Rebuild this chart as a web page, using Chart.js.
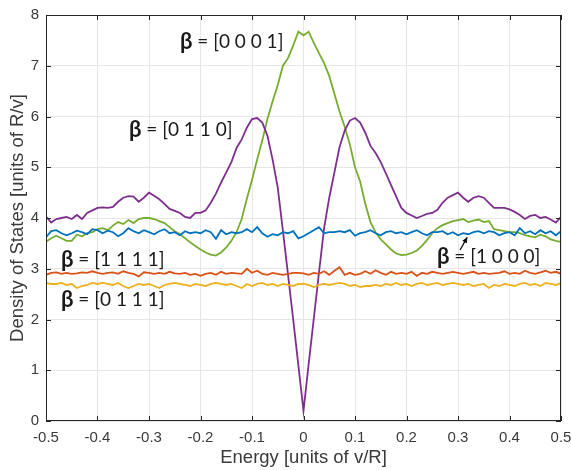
<!DOCTYPE html>
<html>
<head>
<meta charset="utf-8">
<script src="https://cdn.jsdelivr.net/npm/chart.js@4.4.1/dist/chart.umd.min.js"></script>
<style>
  html, body { margin: 0; padding: 0; background: #ffffff; }
  canvas { display: block; }
</style>
</head>
<body>
<canvas id="c" width="571" height="470"></canvas>
<script>
// ---------- DATA ----------
const energy = [
  -0.50,-0.49,-0.48,-0.47,-0.46,-0.45,-0.44,-0.43,-0.42,-0.41,
  -0.40,-0.39,-0.38,-0.37,-0.36,-0.35,-0.34,-0.33,-0.32,-0.31,
  -0.30,-0.29,-0.28,-0.27,-0.26,-0.25,-0.24,-0.23,-0.22,-0.21,
  -0.20,-0.19,-0.18,-0.17,-0.16,-0.15,-0.14,-0.13,-0.12,-0.11,
  -0.10,-0.09,-0.08,-0.07,-0.06,-0.05,-0.04,-0.03,-0.02,-0.01,
   0.00, 0.01, 0.02, 0.03, 0.04, 0.05, 0.06, 0.07, 0.08, 0.09,
   0.10, 0.11, 0.12, 0.13, 0.14, 0.15, 0.16, 0.17, 0.18, 0.19,
   0.20, 0.21, 0.22, 0.23, 0.24, 0.25, 0.26, 0.27, 0.28, 0.29,
   0.30, 0.31, 0.32, 0.33, 0.34, 0.35, 0.36, 0.37, 0.38, 0.39,
   0.40, 0.41, 0.42, 0.43, 0.44, 0.45, 0.46, 0.47, 0.48, 0.49,
   0.50
];

// beta = [1 0 0 0]
const dos1000 = [
  3.62,3.74,3.76,3.70,3.66,3.70,3.75,3.72,3.68,3.78,
  3.76,3.70,3.75,3.72,3.64,3.70,3.80,3.74,3.70,3.76,
  3.72,3.68,3.74,3.78,3.70,3.72,3.66,3.74,3.70,3.72,
  3.70,3.76,3.72,3.59,3.76,3.68,3.72,3.70,3.72,3.78,
  3.72,3.82,3.70,3.63,3.68,3.66,3.72,3.70,3.74,3.60,
  3.64,3.70,3.76,3.82,3.70,3.72,3.72,3.74,3.72,3.76,
  3.65,3.70,3.72,3.76,3.70,3.66,3.72,3.74,3.70,3.72,
  3.68,3.72,3.76,3.70,3.66,3.72,3.72,3.74,3.68,3.72,
  3.66,3.70,3.68,3.72,3.74,3.70,3.74,3.72,3.66,3.70,
  3.72,3.66,3.80,3.70,3.74,3.68,3.76,3.70,3.74,3.66,
  3.74
];

// beta = [1 1 1 1]
const dos1111 = [
  2.88,2.92,2.93,2.90,2.92,2.90,2.91,2.93,2.92,2.95,
  2.92,2.90,2.92,2.93,2.90,2.95,2.92,2.90,2.85,2.93,
  2.92,2.90,2.92,2.90,2.94,2.91,2.90,2.92,2.88,2.90,
  2.86,2.90,2.92,2.88,2.94,2.90,2.92,2.91,2.90,3.00,
  2.92,2.96,2.90,2.88,2.92,2.90,2.88,2.90,2.92,2.92,
  2.91,2.88,2.92,2.90,2.95,2.88,2.96,3.03,2.88,2.92,
  2.88,2.90,2.95,2.90,2.97,2.92,2.88,2.94,2.90,2.92,
  2.90,2.94,2.86,2.92,2.90,2.94,2.92,2.90,2.92,2.94,
  2.92,2.90,2.92,2.94,2.90,2.92,2.90,2.91,2.92,2.95,
  2.90,2.92,2.90,2.96,2.92,2.90,2.93,2.96,2.92,2.94,
  2.90
];

// beta = [0 1 1 1]
const dos0111 = [
  2.72,2.70,2.70,2.72,2.68,2.70,2.62,2.66,2.68,2.72,
  2.70,2.72,2.70,2.68,2.72,2.66,2.62,2.66,2.70,2.68,
  2.70,2.66,2.62,2.68,2.70,2.72,2.70,2.68,2.66,2.70,
  2.68,2.66,2.70,2.72,2.70,2.68,2.70,2.66,2.62,2.70,
  2.66,2.70,2.72,2.68,2.70,2.66,2.70,2.68,2.66,2.70,
  2.70,2.68,2.64,2.68,2.70,2.68,2.70,2.72,2.70,2.66,
  2.68,2.64,2.66,2.66,2.68,2.66,2.70,2.68,2.72,2.68,
  2.70,2.66,2.70,2.72,2.68,2.70,2.72,2.68,2.70,2.72,
  2.70,2.68,2.70,2.66,2.68,2.70,2.62,2.68,2.66,2.70,
  2.68,2.66,2.70,2.72,2.68,2.70,2.66,2.72,2.70,2.68,
  2.72
];

// beta = [0 1 1 0]
const dos0110 = [
  4.03,3.91,3.98,4.00,4.02,3.98,4.06,3.98,4.10,4.15,
  4.20,4.21,4.20,4.22,4.32,4.40,4.43,4.42,4.32,4.40,
  4.50,4.44,4.37,4.28,4.18,4.14,4.10,4.02,4.00,4.10,
  4.10,4.15,4.30,4.48,4.70,4.90,5.10,5.38,5.55,5.78,
  5.95,5.97,5.88,5.62,5.15,4.60,3.75,2.88,2.00,1.10,
  0.20,1.12,2.02,2.92,3.80,4.40,4.90,5.40,5.72,5.92,
  5.97,5.88,5.68,5.42,5.28,5.10,4.88,4.65,4.42,4.20,
  4.10,4.05,4.00,4.04,4.08,4.10,4.16,4.30,4.40,4.45,
  4.50,4.40,4.32,4.40,4.43,4.40,4.30,4.20,4.20,4.20,
  4.17,4.12,4.06,3.98,4.04,4.06,4.00,4.02,3.97,3.91,
  4.02
];

// beta = [0 0 0 1]
const dos0001 = [
  3.53,3.60,3.65,3.60,3.55,3.55,3.67,3.64,3.70,3.72,
  3.78,3.80,3.76,3.85,3.92,3.88,3.96,3.90,3.98,4.00,
  4.00,3.98,3.94,3.90,3.82,3.74,3.68,3.60,3.52,3.45,
  3.38,3.32,3.28,3.26,3.32,3.42,3.55,3.72,3.98,4.38,
  4.75,5.15,5.53,5.95,6.30,6.62,7.00,7.15,7.40,7.67,
  7.60,7.67,7.45,7.25,7.05,6.80,6.45,6.10,5.80,5.45,
  5.00,4.72,4.28,3.92,3.72,3.58,3.48,3.38,3.30,3.27,
  3.28,3.31,3.36,3.45,3.57,3.70,3.80,3.86,3.90,3.94,
  3.96,3.98,3.92,3.95,3.97,3.92,3.94,3.78,3.76,3.74,
  3.72,3.72,3.70,3.66,3.64,3.62,3.67,3.64,3.58,3.55,
  3.53
];

const xTickLabels = ['-0.5','-0.4','-0.3','-0.2','-0.1','0','0.1','0.2','0.3','0.4','0.5'];
const yTickLabels = ['0','1','2','3','4','5','6','7','8'];

const seriesNames = ['[1 0 0 0]','[1 1 1 1]','[0 1 1 1]','[0 1 1 0]','[0 0 0 1]'];
const seriesValues = [dos1000, dos1111, dos0111, dos0110, dos0001];
const seriesColors = ['#0072BD','#D95319','#EDB120','#7E2F8E','#77AC30'];

// annotation labels: [text, x (energy), y (DOS)]
const annoLabels = [
  ['[0 0 0 1]', -0.240, 7.47],
  ['[0 1 1 0]', -0.339, 5.73],
  ['[1 1 1 1]', -0.471, 3.17],
  ['[0 1 1 1]', -0.471, 2.38],
  ['[1 0 0 0]',  0.259, 3.23]
];
const arrow1000 = { from: [0.304, 3.37], to: [0.318, 3.62] };

const xAxisTitle = 'Energy [units of v/R]';
const yAxisTitle = 'Density of States [units of R/v]';

// ---------- CHART ----------
const datasets = seriesValues.map((vals, k) => ({
  label: seriesNames[k],
  data: vals.map((v, i) => ({ x: energy[i], y: v })),
  borderColor: seriesColors[k],
  backgroundColor: seriesColors[k],
  borderWidth: 1.8,
  pointRadius: 0,
  tension: 0,
  fill: false
}));

const AXIS = '#262626';
const TICKCOL = '#3a3a3a';

const framePlugin = {
  id: 'frame',
  afterDatasetsDraw(chart) {
    const { ctx, chartArea: a, scales } = chart;
    const xs = scales.x, ys = scales.y;
    ctx.save();
    ctx.strokeStyle = AXIS;
    ctx.lineWidth = 1;
    ctx.strokeRect(Math.round(a.left) + 0.5, Math.round(a.top) + 0.5,
                   Math.round(a.right - a.left) - 1, Math.round(a.bottom - a.top) - 1);
    const tl = 5;
    ctx.beginPath();
    xTickLabels.forEach(t => {
      const px = Math.round(xs.getPixelForValue(parseFloat(t))) + 0.5;
      ctx.moveTo(px, a.bottom); ctx.lineTo(px, a.bottom - tl);
      ctx.moveTo(px, a.top); ctx.lineTo(px, a.top + tl);
    });
    yTickLabels.forEach(t => {
      const py = Math.round(ys.getPixelForValue(parseFloat(t))) + 0.5;
      ctx.moveTo(a.left, py); ctx.lineTo(a.left + tl, py);
      ctx.moveTo(a.right, py); ctx.lineTo(a.right - tl, py);
    });
    ctx.stroke();

    // annotations
    ctx.fillStyle = '#1a1a1a';
    ctx.textBaseline = 'middle';
    ctx.textAlign = 'left';
    annoLabels.forEach(([txt, ex, ey]) => {
      let px = xs.getPixelForValue(ex);
      const py = ys.getPixelForValue(ey);
      ctx.font = 'bold 22px Lato, "Open Sans", sans-serif';
      ctx.fillText('\u03B2', px, py);
      px += ctx.measureText('\u03B2').width;
      ctx.font = '19px Lato, "Open Sans", sans-serif';
      ctx.fillText(' = ' + txt, px, py);
    });

    // arrow
    const x0 = xs.getPixelForValue(arrow1000.from[0]), y0 = ys.getPixelForValue(arrow1000.from[1]);
    const x1 = xs.getPixelForValue(arrow1000.to[0]), y1 = ys.getPixelForValue(arrow1000.to[1]);
    ctx.strokeStyle = '#000';
    ctx.lineWidth = 1.3;
    ctx.beginPath(); ctx.moveTo(x0, y0); ctx.lineTo(x1, y1); ctx.stroke();
    const ang = Math.atan2(y1 - y0, x1 - x0), h = 6;
    ctx.fillStyle = '#000';
    ctx.beginPath();
    ctx.moveTo(x1, y1);
    ctx.lineTo(x1 - h * Math.cos(ang - 0.45), y1 - h * Math.sin(ang - 0.45));
    ctx.lineTo(x1 - h * Math.cos(ang + 0.45), y1 - h * Math.sin(ang + 0.45));
    ctx.closePath(); ctx.fill();
    ctx.restore();
  }
};

new Chart(document.getElementById('c'), {
  type: 'line',
  data: { datasets },
  options: {
    responsive: false,
    animation: false,
    devicePixelRatio: 1,
    layout: { padding: { top: 15, right: 10, left: 0, bottom: 0 } },
    plugins: { legend: { display: false }, tooltip: { enabled: false } },
    scales: {
      x: {
        type: 'linear', min: -0.5, max: 0.5,
        afterFit(s) { s.height = 49; s.paddingLeft = 0; s.paddingRight = 0; },
        afterBuildTicks(s) { s.ticks = xTickLabels.map(t => ({ value: parseFloat(t) })); },
        ticks: {
          callback: (v, i) => xTickLabels[i],
          font: { family: '"Liberation Sans", Arial, sans-serif', size: 15 },
          color: TICKCOL, padding: 8, maxRotation: 0, autoSkip: false
        },
        grid: { color: '#e6e6e6', lineWidth: 1, drawTicks: false },
        border: { display: false },
        title: {
          display: true, text: xAxisTitle, color: TICKCOL,
          font: { family: '"Liberation Sans", Arial, sans-serif', size: 18.5 },
          padding: { top: 0, bottom: 1 }
        }
      },
      y: {
        type: 'linear', min: 0, max: 8,
        afterFit(s) { s.width = 46; s.paddingTop = 0; s.paddingBottom = 0; },
        afterBuildTicks(s) { s.ticks = yTickLabels.map(t => ({ value: parseFloat(t) })); },
        ticks: {
          callback: (v, i) => yTickLabels[i],
          font: { family: '"Liberation Sans", Arial, sans-serif', size: 15 },
          color: TICKCOL, padding: 7
        },
        grid: { color: '#e6e6e6', lineWidth: 1, drawTicks: false },
        border: { display: false },
        title: {
          display: true, text: yAxisTitle, color: TICKCOL,
          font: { family: '"Liberation Sans", Arial, sans-serif', size: 18.5 },
          padding: { top: 7, bottom: 0 }
        }
      }
    }
  },
  plugins: [framePlugin]
});
</script>
</body>
</html>
